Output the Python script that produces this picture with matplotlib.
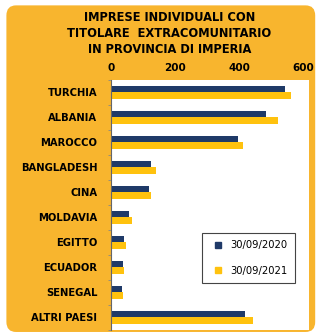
import numpy as np
import matplotlib.pyplot as plt
from matplotlib.patches import FancyBboxPatch
from matplotlib.lines import Line2D

countries = ["TURCHIA", "ALBANIA", "MAROCCO", "BANGLADESH", "CINA",
             "MOLDAVIA", "EGITTO", "ECUADOR", "SENEGAL", "ALTRI PAESI"]
v2020 = [544, 484, 397, 125, 119, 54, 41, 37, 33, 419]
v2021 = [562, 522, 413, 141, 125, 66, 47, 41, 37, 444]
labels = ["30/09/2020", "30/09/2021"]

navy = "#1F3A68"
gold = "#FFC20E"
orange = "#F8B52E"

fig = plt.figure(figsize=(3.2, 3.36), dpi=100)
fig.patch.set_facecolor("white")
bg = FancyBboxPatch((0.02, 0.012), 0.965, 0.972,
                    boxstyle="round,pad=0,rounding_size=0.03",
                    transform=fig.transFigure, facecolor=orange,
                    edgecolor="none", zorder=-10)
fig.patches.append(bg)

ax = fig.add_axes([0.348, 0.018, 0.619, 0.744])
ax.set_facecolor("white")

y = np.arange(len(countries))
h = 0.27
ax.barh(y - h / 2, v2020, height=h, color=navy)
ax.barh(y + h / 2, v2021, height=h, color=gold)

ax.set_ylim(len(countries) - 0.5, -0.5)
ax.set_xlim(0, 620)
ax.set_xticks([0, 200, 400, 600])
ax.xaxis.tick_top()
ax.tick_params(axis="x", length=0, pad=5, labelsize=7.5)
ax.set_yticks(y)
ax.set_yticklabels(countries)
ax.set_yticks(np.arange(-0.5, len(countries), 1), minor=True)
ax.tick_params(axis="y", which="major", length=0, pad=10, labelsize=7.2)
ax.tick_params(axis="y", which="minor", length=2, color="#888888")
for lab in ax.get_xticklabels() + ax.get_yticklabels():
    lab.set_fontweight("bold")
for side in ["top", "right", "bottom"]:
    ax.spines[side].set_visible(False)
ax.spines["left"].set_color("#666666")
ax.spines["left"].set_linewidth(0.8)

handles = [Line2D([], [], ls="none", marker="s", markersize=4, color=c)
           for c in (navy, gold)]
leg = ax.legend(handles, labels, loc="lower right",
                bbox_to_anchor=(0.925, 0.188),
                fontsize=7.2, handlelength=1.7, handletextpad=0.4,
                labelspacing=1.55, borderpad=0.7, borderaxespad=0,
                fancybox=False, framealpha=1)
leg.get_frame().set_edgecolor("#444444")
leg.get_frame().set_linewidth(0.8)

fig.text(0.53, 0.966, "IMPRESE INDIVIDUALI CON\nTITOLARE  EXTRACOMUNITARIO\nIN PROVINCIA DI IMPERIA",
         ha="center", va="top", fontsize=8.3, fontweight="heavy",
         linespacing=1.3)

fig.savefig("out.png", dpi=100)
